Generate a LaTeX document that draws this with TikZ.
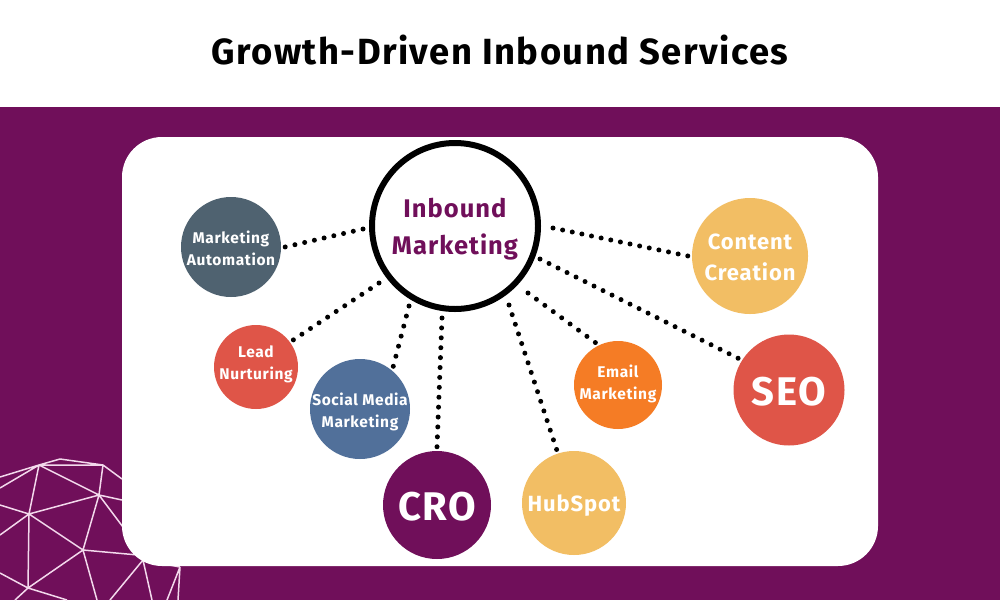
\documentclass[tikz,border=0pt]{standalone}
\usepackage{fontspec}
\setmainfont{Fira Sans}[LetterSpace=4]
\definecolor{plum}{HTML}{700F5A}
\definecolor{slate}{HTML}{4F6270}
\definecolor{coral}{HTML}{DF5548}
\definecolor{steel}{HTML}{51709A}
\definecolor{sand}{HTML}{F2BE64}
\definecolor{tangerine}{HTML}{F57C25}
\definecolor{meshline}{HTML}{F3D9EC}
\tikzset{
  spot/.style={circle,inner sep=0pt,outer sep=4pt},
  lettering/.style={text=white,align=center,inner sep=0pt},
  small/.style={lettering,font=\fontsize{15.5}{22}\selectfont\bfseries},
  medium/.style={lettering,font=\fontsize{22}{31}\selectfont\bfseries},
  large/.style={lettering,font=\fontsize{40}{42}\selectfont\bfseries},
  dotline/.style={line width=5pt,line cap=round,dash pattern=on 0pt off #1pt},
}
\begin{document}
\begin{tikzpicture}[x=1pt,y=-1pt]
\useasboundingbox (0,0) rectangle (1000,600);
\fill[white] (0,0) rectangle (1000,107);
\fill[plum] (0,107) rectangle (1000,600);
\node (title) at (500,50) {\fontsize{36.4}{40}\selectfont\bfseries Growth-Driven Inbound Services};
% mesh in the corner
\draw[meshline,line width=1.5pt,line join=round]
  (39,465) -- (60,459) -- (103,465) -- (122,479)
  (39,465) -- (103,465) -- (99,495) -- (39,465)
  (39,465) -- (29,514) -- (99,495) -- (122,500)
  (39,465) -- (0,477) (39,465) -- (0,488)
  (29,514) -- (0,505) (29,514) -- (0,535)
  (29,514) -- (83,550) -- (99,495) -- (123,527)
  (29,514) -- (28,588) -- (83,550) -- (138,555)
  (83,550) -- (97,600)
  (28,588) -- (0,573) (28,588) -- (15,600) (28,588) -- (67,600)
  (143,560) -- (110,600) (143,560) -- (152,600) (143,560) -- (180,567)
  (180,567) -- (167,600) (180,567) -- (178,600);
\fill[white,rounded corners=40pt] (122,137) rectangle (878,566);
% circles
\node[circle,draw=black,line width=6pt,fill=white,minimum size=166pt,inner sep=0pt,
  label={[lettering,text=plum,font=\fontsize{25.5}{37}\selectfont\bfseries,yshift=-3.5pt]center:Inbound\\Marketing}] (hub) at (455,226) {};
\node[spot,fill=slate,minimum size=100pt,label={[small,yshift=-1pt]center:Marketing\\Automation}] (automation) at (231,247) {};
\node[spot,fill=coral,minimum size=84pt,label={[small,yshift=3pt]center:Lead\\Nurturing}] (lead) at (256,367) {};
\node[spot,fill=steel,minimum size=100pt,label={[small,yshift=-2.5pt]center:Social Media\\Marketing}] (social) at (360,409) {};
\node[spot,fill=plum,minimum size=108pt,label={[large,yshift=-2pt]center:CRO}] (cro) at (437,505) {};
\node[spot,fill=sand,minimum size=104pt,label={[medium,yshift=-3pt]center:HubSpot}] (hubspot) at (574,503) {};
\node[spot,fill=tangerine,minimum size=88pt,label={[small,yshift=1.5pt]center:Email\\Marketing}] (email) at (618,385) {};
\node[spot,fill=coral,minimum size=111pt,label={[large,yshift=-2pt]center:SEO}] (seo) at (789,390) {};
\node[spot,fill=sand,minimum size=116pt,label={[medium,yshift=-1.5pt]center:Content\\Creation}] (content) at (750,256) {};
% free ends near the hub
\coordinate (hubA) at (363,229);
\coordinate (hubB) at (379,283);
\coordinate (hubC) at (409,306);
\coordinate (hubD) at (442,318);
\coordinate (hubE) at (509,305);
\coordinate (hubF) at (528,293);
\coordinate (hubG) at (540,259);
\coordinate (hubH) at (553,228);
\draw[dotline=9.98] (hubA) -- (automation.0);
\draw[dotline=10.28] (hubB) -- (lead.36);
\draw[dotline=10.38] (hubC) -- (social.52);
\draw[dotline=9.91] (hubD) -- (cro.90);
\draw[dotline=10.14] (hubE) -- (hubspot.108);
\draw[dotline=10.45] (hubF) -- (email.118);
\draw[dotline=10.07] (hubG) -- (seo.148);
\draw[dotline=9.83] (hubH) -- (content.180);
\end{tikzpicture}
\end{document}
